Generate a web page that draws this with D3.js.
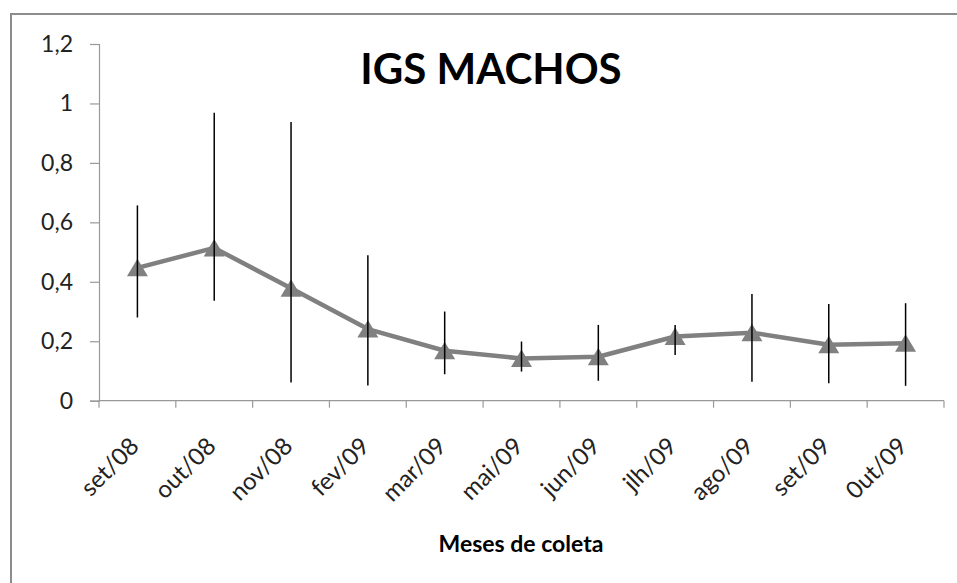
<!DOCTYPE html>
<html>
<head>
<meta charset="utf-8">
<script src="https://cdn.jsdelivr.net/npm/d3@7"></script>
<style>
  body { margin: 0; background: #fff; }
  svg { display: block; font-family: Lato, "Open Sans", sans-serif; }
</style>
</head>
<body>
<div id="chart"></div>
<script>
// IGS machos - monthly means with error bars
const months = ["set/08", "out/08", "nov/08", "fev/09", "mar/09", "mai/09", "jun/09", "jlh/09", "ago/09", "set/09", "0ut/09"];
const igsMean = [0.447, 0.514, 0.378, 0.241, 0.168, 0.142, 0.148, 0.216, 0.229, 0.188, 0.193];
const errUpper = [0.657, 0.969, 0.938, 0.489, 0.300, 0.199, 0.255, 0.255, 0.359, 0.325, 0.328];
const errLower = [0.280, 0.336, 0.061, 0.051, 0.089, 0.098, 0.067, 0.154, 0.064, 0.059, 0.050];
const yTicks = [0, 0.2, 0.4, 0.6, 0.8, 1, 1.2];

const width = 957, height = 583;
const plot = { left: 99, right: 944, top: 44, bottom: 400.7 };

const svg = d3.select("#chart").append("svg")
  .attr("width", width)
  .attr("height", height);

// outer chart border (right/bottom run off the picture)
svg.append("rect")
  .attr("x", 11).attr("y", 14)
  .attr("width", 980).attr("height", 620)
  .attr("fill", "none")
  .attr("stroke", "#8c8c8c")
  .attr("stroke-width", 2);

const x = d3.scaleBand().domain(months).range([plot.left, plot.right]);
const y = d3.scaleLinear().domain([0, 1.2]).range([plot.bottom, plot.top]);
const fmt = v => String(v).replace(".", ",");

// y axis
const yAxis = svg.append("g")
  .attr("transform", `translate(${plot.left},0)`)
  .call(d3.axisLeft(y).tickValues(yTicks).tickSize(9).tickPadding(17).tickFormat(fmt));
yAxis.select(".domain").attr("stroke", "#999").attr("stroke-width", 1.2);
yAxis.selectAll(".tick line").attr("stroke", "#999").attr("stroke-width", 1.2);
yAxis.selectAll("text")
  .attr("font-size", 23)
  .attr("fill", "#222")
  .attr("font-family", "Lato, sans-serif");

// x axis: ticks on category boundaries
const xAxis = svg.append("g")
  .attr("transform", `translate(0,${plot.bottom})`);
xAxis.append("line")
  .attr("x1", plot.left).attr("x2", plot.right)
  .attr("stroke", "#999").attr("stroke-width", 1.2);
const bounds = months.map(m => x(m)).concat([x.range()[1]]);
xAxis.selectAll("line.tk")
  .data(bounds)
  .join("line")
  .attr("class", "tk")
  .attr("x1", d => d).attr("x2", d => d)
  .attr("y1", 0).attr("y2", 7)
  .attr("stroke", "#999").attr("stroke-width", 1.2);
xAxis.selectAll("text")
  .data(months)
  .join("text")
  .attr("transform", d => `translate(${x(d) + x.bandwidth() / 2 + 3},${47}) rotate(-45)`)
  .attr("text-anchor", "end")
  .attr("font-size", 24)
  .attr("fill", "#222")
  .text(d => d);

// series line
const pts = months.map((m, i) => ({ m, v: igsMean[i], hi: errUpper[i], lo: errLower[i] }));
const cx = d => x(d.m) + x.bandwidth() / 2;

svg.append("path")
  .datum(pts)
  .attr("fill", "none")
  .attr("stroke", "#808080")
  .attr("stroke-width", 4.5)
  .attr("stroke-linejoin", "round")
  .attr("d", d3.line().x(cx).y(d => y(d.v)));

// triangle markers
svg.append("g").selectAll("path")
  .data(pts)
  .join("path")
  .attr("transform", d => `translate(${cx(d)},${y(d.v)})`)
  .attr("d", "M0,-9 L10.5,8.5 L-10.5,8.5 Z")
  .attr("fill", "#808080");

// error bars (drawn over markers, no caps)
svg.append("g").selectAll("line")
  .data(pts)
  .join("line")
  .attr("x1", cx).attr("x2", cx)
  .attr("y1", d => y(d.hi))
  .attr("y2", d => y(d.lo))
  .attr("stroke", "#000")
  .attr("stroke-width", 1.5);

// titles
svg.append("text")
  .attr("x", 491).attr("y", 84)
  .attr("text-anchor", "middle")
  .attr("font-size", 42)
  .attr("font-weight", "bold")
  .attr("fill", "#000")
  .text("IGS MACHOS");

svg.append("text")
  .attr("x", 521).attr("y", 552)
  .attr("text-anchor", "middle")
  .attr("font-size", 23)
  .attr("font-weight", "bold")
  .attr("fill", "#000")
  .text("Meses de coleta");
</script>
</body>
</html>
